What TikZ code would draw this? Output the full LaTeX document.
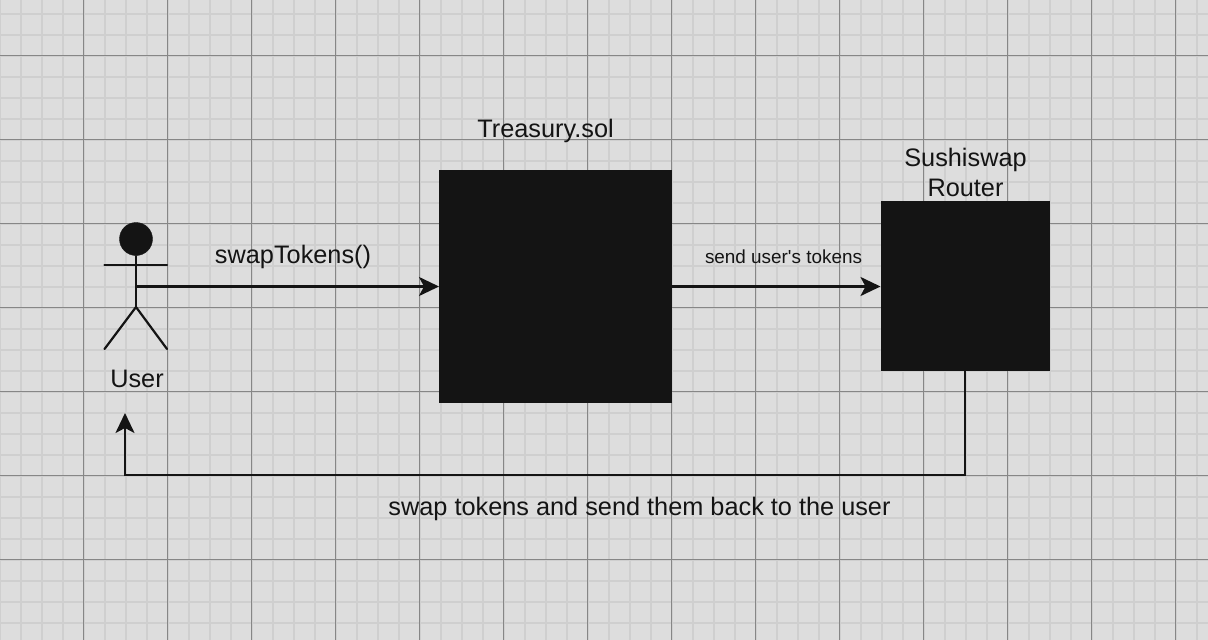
\documentclass[tikz,border=0pt]{standalone}
\usepackage{fontspec}
\setmainfont{Liberation Sans}
\usetikzlibrary{arrows.meta}
\definecolor{paper}{HTML}{DDDDDD}
\definecolor{minorgrid}{HTML}{CFCFCF}
\definecolor{majorgrid}{HTML}{868686}
\definecolor{ink}{HTML}{141414}
\tikzset{
  px/.style={x=1pt,y=-1pt},
  boxnode/.style={fill=ink,inner sep=0pt,outer sep=0pt,anchor=north west},
  wire/.style={draw=ink,line width=2.4pt,-{Stealth[length=20pt,width=19pt,inset=5pt]}},
  limb/.style={draw=ink,line width=2.2pt,line cap=round},
  labelbig/.style={text=ink,font=\fontsize{25.3}{30}\selectfont,align=center,inner sep=0pt},
  labelsmall/.style={text=ink,font=\fontsize{18.9}{22}\selectfont,align=center,inner sep=0pt},
}
\begin{document}
\begin{tikzpicture}[px]
\useasboundingbox (0,0) rectangle (1208,640);
\fill[paper] (0,0) rectangle (1208,640);
\foreach \k in {0,...,57} {\draw[minorgrid,line width=2pt] ({-0.5+21*\k},0) -- ({-0.5+21*\k},640);}
\foreach \k in {0,...,30} {\draw[minorgrid,line width=2pt] (0,{13.5+21*\k}) -- (1208,{13.5+21*\k});}
\foreach \k in {0,...,13} {\draw[majorgrid,line width=1.3pt] ({83.5+84*\k},0) -- ({83.5+84*\k},640);}
\foreach \k in {0,...,6} {\draw[majorgrid,line width=1.3pt] (0,{55.5+84*\k}) -- (1208,{55.5+84*\k});}
% actor
\node[circle,draw=ink,fill=ink,minimum size=33pt,inner sep=0pt] (head) at (136,239) {};
\coordinate (neck) at (136,256);
\coordinate (hip) at (136,307);
\coordinate (armL) at (104.5,265);
\coordinate (armR) at (167,265);
\coordinate (footL) at (104.5,349);
\coordinate (footR) at (167,349);
\coordinate (chest) at (136,286.5);
\draw[limb] (neck) -- (hip);
\draw[limb] (armL) -- (armR);
\draw[limb] (footL) -- (hip) -- (footR);
\node[labelbig] (userlabel) at (137,378.5) {User};
% boxes
\node[boxnode,minimum width=233pt,minimum height=233.5pt] (treasury) at (439,169.5) {};
\node[boxnode,minimum width=169.5pt,minimum height=170pt] (router) at (880.5,201) {};
\node[labelbig] (treasurylabel) at (545.5,131) {Treasury.sol};
\node[labelbig] (routerlabel) at (965.5,172) {Sushiswap\\Router};
% connectors
\draw[wire] (chest) -- (treasury.west |- chest);
\draw[wire] (treasury.east |- chest) -- (router.west |- chest);
\coordinate (backrow) at (125,475);
\coordinate (backend) at (125,413);
\draw[wire,line join=miter] (router.south) -- (router.south |- backrow) -- (backrow) -- (backend);
\node[labelbig] (swaplabel) at (293,257) {swapTokens()};
\node[labelsmall] (sendlabel) at (783.5,257) {send user\textquotesingle s tokens};
\node[labelbig] (backlabel) at (639.5,509) {swap tokens and send them back to the user};
\end{tikzpicture}
\end{document}
